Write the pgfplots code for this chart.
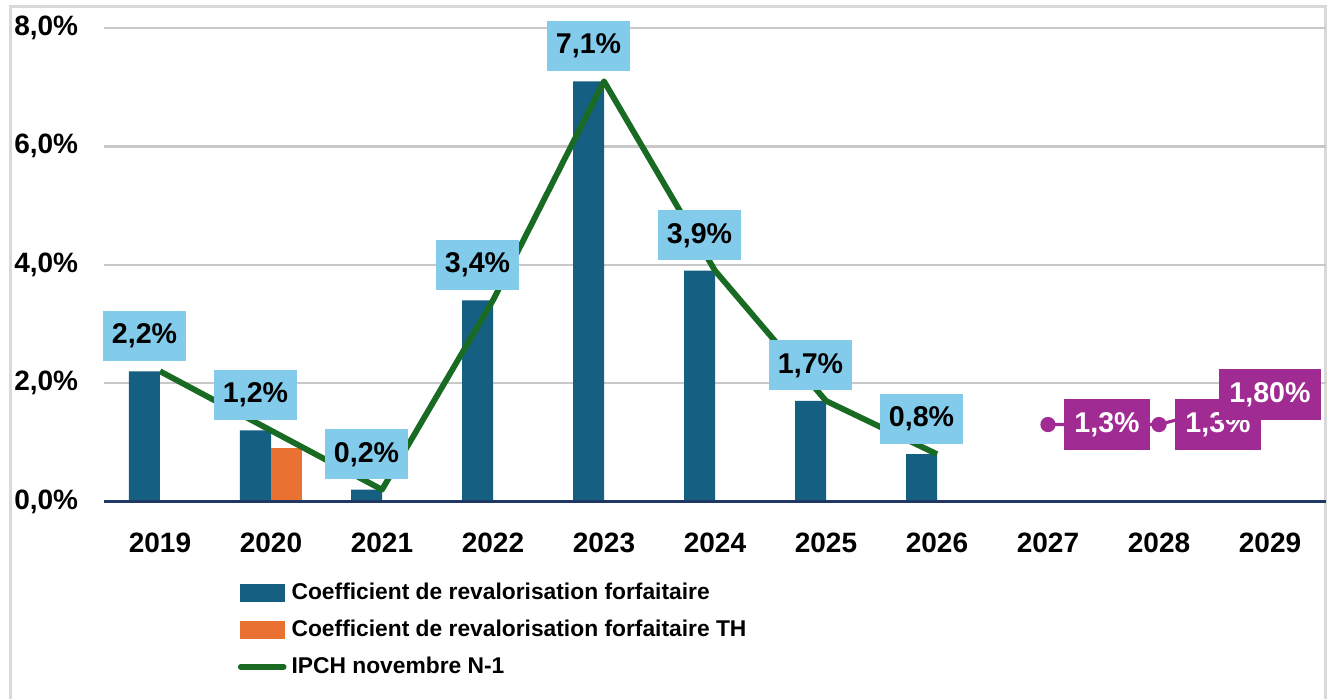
\documentclass[border=0pt]{standalone}
\usepackage{pgfplots}
\pgfplotsset{compat=1.18}
\usepackage{fontspec}
\setmainfont{Liberation Sans}
\definecolor{blueC}{HTML}{156082}
\definecolor{orangeC}{HTML}{E97132}
\definecolor{greenC}{HTML}{196B24}
\definecolor{purpleC}{HTML}{A02B93}
\definecolor{labelC}{HTML}{83CBEB}
\definecolor{axisC}{HTML}{203864}
\definecolor{gridC}{HTML}{C8C8C8}
\definecolor{frameC}{HTML}{D9D9D9}
\begin{document}
\begin{tikzpicture}
\useasboundingbox (-52.25pt,-98.75pt) rectangle (614.25pt,250.75pt);
\fill[white] (-52.25pt,-98.75pt) rectangle (614.25pt,250.75pt);
\draw[frameC, line width=1.5pt] (-47pt,-100pt) -- (-47pt,247.25pt) -- (610.5pt,247.25pt) -- (610.5pt,-100pt);
\begin{axis}[
  at={(0,0)}, anchor=south west,
  scale only axis, width=610.5pt, height=236.75pt,
  xmin=-0.5, xmax=10.5, ymin=0, ymax=8,
  clip=false,
  axis line style={draw=none},
  xtick={0,1,2,3,4,5,6,7,8,9,10},
  xticklabels={2019,2020,2021,2022,2023,2024,2025,2026,2027,2028,2029},
  ytick={0,2,4,6,8},
  yticklabels={{0,0\%},{2,0\%},{4,0\%},{6,0\%},{8,0\%}},
  major tick length=0pt,
  ymajorgrids, grid style={gridC, line width=1.2pt},
  ticklabel style={font=\fontsize{14}{16}\selectfont\bfseries, inner sep=0pt},
  xticklabel style={anchor=north, yshift=-15.5pt},
  yticklabel style={anchor=east, xshift=-13pt},
  legend style={at={(0,0)}, anchor=north west, xshift=66.5pt, yshift=-36.25pt,
    draw=none, fill=none, inner sep=0pt,
    font=\fontsize{11.4}{13}\selectfont\bfseries,
    nodes={inner sep=0pt, minimum height=18.5pt}},
  legend cell align=left,
]
\addplot[ybar, bar width=15.5pt, bar shift=-7.75pt, fill=blueC, draw=none,
  legend image code/.code={\fill[blueC] (0pt,-4.5pt) rectangle (22.5pt,4.5pt); \path (24.5pt,0pt);}]
  coordinates {(0,2.2) (1,1.2) (2,0.2) (3,3.4) (4,7.1) (5,3.9) (6,1.7) (7,0.8)};
\addlegendentry{Coefficient de revalorisation forfaitaire}
\addplot[ybar, bar width=15.5pt, bar shift=7.75pt, fill=orangeC, draw=none,
  legend image code/.code={\fill[orangeC] (0pt,-4.5pt) rectangle (22.5pt,4.5pt); \path (24.5pt,0pt);}]
  coordinates {(1,0.9)};
\addlegendentry{Coefficient de revalorisation forfaitaire TH}
\addplot[greenC, line width=2.9pt, mark=none, line join=round,
  legend image code/.code={\draw[greenC, line width=2.8pt, line cap=round] (0.5pt,0pt) -- (22pt,0pt); \path (24.5pt,0pt);}]
  coordinates {(0,2.2) (1,1.2) (2,0.2) (3,3.4) (4,7.1) (5,3.9) (6,1.7) (7,0.8)};
\addlegendentry{IPCH novembre N-1}
% labels of the bars
\addplot[draw=none, mark=none, forget plot,
  nodes near coords={\pgfmathprintnumber[fixed,fixed zerofill,precision=1,use comma,assume math mode=true]{\pgfplotspointmeta}\%},
  every node near coord/.append style={anchor=south, xshift=-7.75pt, yshift=5pt, fill=labelC, text=black,
    inner xsep=4.5pt, inner ysep=0pt, minimum height=25pt, font=\fontsize{14.3}{16}\selectfont\bfseries}]
  coordinates {(0,2.2) (1,1.2) (2,0.2) (3,3.4) (4,7.1) (5,3.9) (6,1.7) (7,0.8)};
% purple forecast
\addplot[purpleC, line width=1.6pt, mark=*, mark size=3pt, mark options={solid, fill=purpleC}, forget plot]
  coordinates {(8,1.3) (9,1.3) (10,1.8)};
\addplot[draw=none, mark=none, forget plot, nodes near coords={1,3\%},
  every node near coord/.append style={anchor=west, xshift=8pt, yshift=0pt, fill=purpleC, text=white,
    inner xsep=5pt, inner ysep=0pt, minimum height=25.5pt, font=\fontsize{14.3}{16}\selectfont\bfseries}]
  coordinates {(8,1.3) (9,1.3)};
\addplot[draw=none, mark=none, forget plot, nodes near coords={1,80\%},
  every node near coord/.append style={anchor=center, fill=purpleC, text=white,
    inner xsep=5pt, inner ysep=0pt, minimum height=25.5pt, font=\fontsize{14.3}{16}\selectfont\bfseries}]
  coordinates {(10,1.8)};
\draw[axisC, line width=1.5pt] (axis cs:-0.5,0) -- (axis cs:10.5,0);
\end{axis}
\end{tikzpicture}
\end{document}
